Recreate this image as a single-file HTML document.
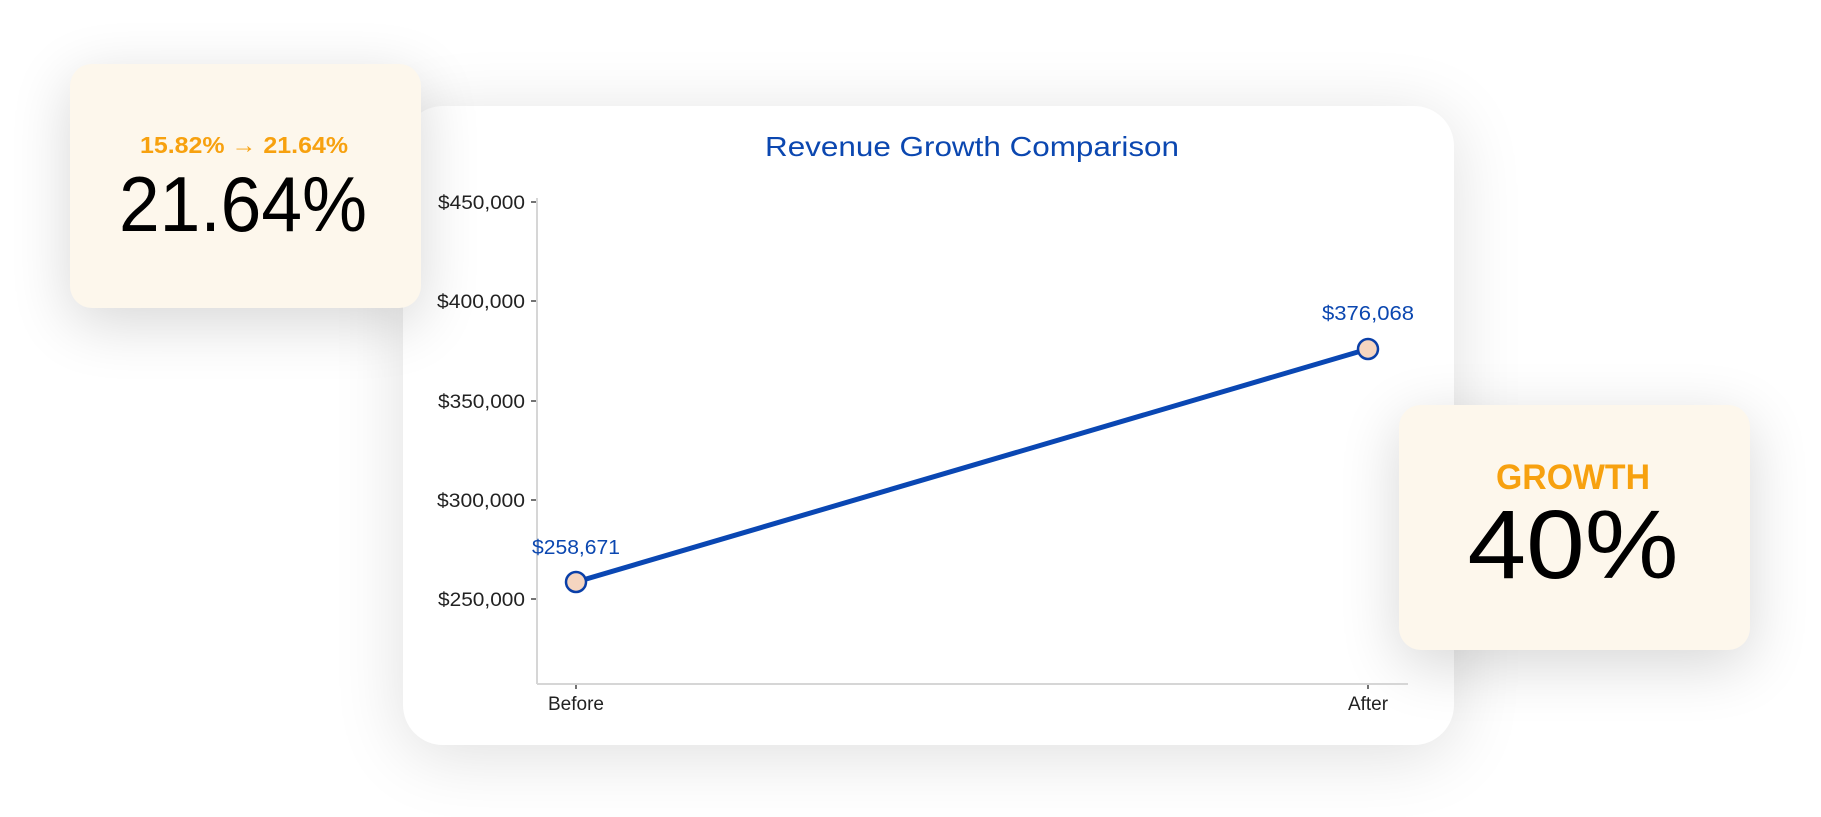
<!DOCTYPE html>
<html><head><meta charset="utf-8"><style>
html,body{margin:0;padding:0;background:#fff;width:1821px;height:817px;overflow:hidden;position:relative;font-family:"Liberation Sans",sans-serif}
.card{position:absolute;border-radius:22px}
#main{left:403px;top:106px;width:1051px;height:639px;background:#fff;border-radius:40px;box-shadow:0 10px 70px rgba(0,0,0,0.13)}
#l{left:70px;top:64px;width:351px;height:244px;background:#fdf7ec;box-shadow:0 15px 60px rgba(0,0,0,0.16)}
#r{left:1399px;top:405px;width:351px;height:245px;background:#fdf7ec;box-shadow:0 15px 60px rgba(0,0,0,0.16)}
svg{position:absolute;left:0;top:0}
</style></head><body>
<div class="card" id="main"></div>
<div class="card" id="l"></div>
<div class="card" id="r"></div>
<svg width="1821" height="817" viewBox="0 0 1821 817" font-family="Liberation Sans, sans-serif">
<text x="972" y="156" text-anchor="middle" font-size="28" fill="#0b47b0" textLength="414" lengthAdjust="spacingAndGlyphs">Revenue Growth Comparison</text>
<g stroke="#d6d6d6" stroke-width="2" fill="none">
<line x1="537" y1="198" x2="537" y2="684"/>
<line x1="537" y1="684" x2="1408" y2="684"/>
</g>
<g stroke="#444" stroke-width="1.5">
<line x1="531" y1="202" x2="536" y2="202"/><line x1="531" y1="301" x2="536" y2="301"/><line x1="531" y1="401" x2="536" y2="401"/><line x1="531" y1="500" x2="536" y2="500"/><line x1="531" y1="599" x2="536" y2="599"/>
<line x1="576" y1="685" x2="576" y2="689"/><line x1="1368" y1="685" x2="1368" y2="689"/>
</g>
<g font-size="19" fill="#222" text-anchor="end">
<text x="525" y="209" textLength="87" lengthAdjust="spacingAndGlyphs">$450,000</text>
<text x="525" y="308" textLength="88" lengthAdjust="spacingAndGlyphs">$400,000</text>
<text x="525" y="408" textLength="87" lengthAdjust="spacingAndGlyphs">$350,000</text>
<text x="525" y="507" textLength="88" lengthAdjust="spacingAndGlyphs">$300,000</text>
<text x="525" y="606" textLength="87" lengthAdjust="spacingAndGlyphs">$250,000</text>
</g>
<g font-size="19" fill="#222" text-anchor="middle">
<text x="576" y="710">Before</text>
<text x="1368" y="710">After</text>
</g>
<line x1="576" y1="582" x2="1368" y2="349" stroke="#0a47b3" stroke-width="5" stroke-linecap="round"/>
<circle cx="576" cy="582" r="10" fill="#f5d5c0" stroke="#0a3fa8" stroke-width="2.5"/>
<circle cx="1368" cy="349" r="10" fill="#f5d5c0" stroke="#0a3fa8" stroke-width="2.5"/>
<g font-size="20" fill="#0b47b0" text-anchor="middle">
<text x="576" y="554" textLength="88" lengthAdjust="spacingAndGlyphs">$258,671</text>
<text x="1368" y="320" textLength="92" lengthAdjust="spacingAndGlyphs">$376,068</text>
</g>
<text x="244" y="153" text-anchor="middle" font-size="23" font-weight="bold" fill="#f7a10f" textLength="208" lengthAdjust="spacingAndGlyphs">15.82% → 21.64%</text>
<text x="243" y="231" text-anchor="middle" font-size="78" fill="#000" textLength="248" lengthAdjust="spacingAndGlyphs">21.64%</text>
<text x="1573" y="489" text-anchor="middle" font-size="35" font-weight="bold" fill="#f7a10f" textLength="154" lengthAdjust="spacingAndGlyphs">GROWTH</text>
<text x="1573" y="578" text-anchor="middle" font-size="97" fill="#000" textLength="211" lengthAdjust="spacingAndGlyphs">40%</text>
</svg>
</body></html>
